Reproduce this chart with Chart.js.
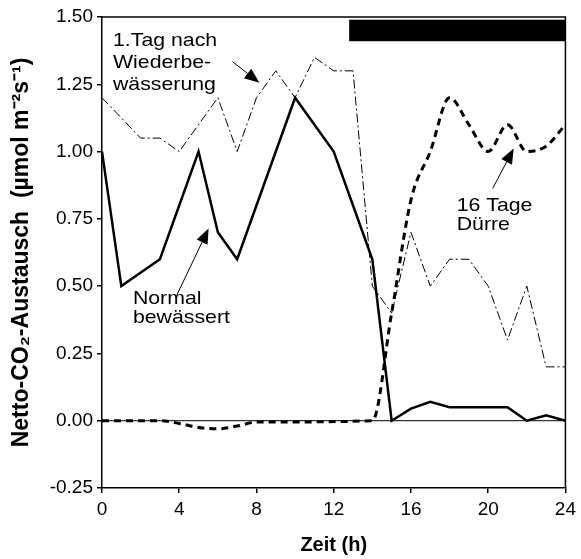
<!DOCTYPE html>
<html>
<head>
<meta charset="utf-8">
<script src="https://cdn.jsdelivr.net/npm/chart.js@4.4.1/dist/chart.umd.min.js"></script>
<style>
  html, body { margin: 0; padding: 0; background: #fff; }
</style>
</head>
<body>
<canvas id="co2Chart" width="581" height="559"></canvas>
<script>
// Netto-CO2-Austausch über 24 h
const normalHours = [0, 1, 3, 5, 6, 7, 10, 12, 14, 15, 16, 17, 18, 21, 22, 23, 24];
const normalValues = [1.0, 0.5, 0.6, 1.0, 0.7, 0.6, 1.2, 1.0, 0.6, 0.0, 0.045, 0.07, 0.05, 0.05, 0.0, 0.02, 0.0];

const rewetHours = [0, 2, 3, 4, 6, 7, 8, 9, 10, 11, 12, 13, 14, 15, 16, 17, 18, 19, 20, 21, 22, 23, 24];
const rewetValues = [1.2, 1.05, 1.05, 1.0, 1.2, 1.0, 1.2, 1.3, 1.2, 1.35, 1.3, 1.3, 0.5, 0.4, 0.7, 0.5, 0.6, 0.6, 0.5, 0.3, 0.5, 0.2, 0.2];

const droughtHours = [0, 3, 4, 5, 6, 7, 8, 14, 15, 16, 17, 18, 19, 20, 21, 22, 23, 24];
const droughtValues = [0, 0, -0.01, -0.025, -0.03, -0.02, -0.005, 0, 0.4, 0.82, 1.0, 1.2, 1.1, 1.0, 1.1, 1.0, 1.02, 1.1];

const xTicks = [0, 4, 8, 12, 16, 20, 24];
const yTicks = [-0.25, 0, 0.25, 0.5, 0.75, 1.0, 1.25, 1.5];

// Dunkelphase (schwarzer Balken oben)
const darkFrom = 12.8;
const darkTo = 24;
const darkLow = 1.41;
const darkHigh = 1.49;

const toPoints = (xs, ys) => xs.map((x, i) => ({ x: x, y: ys[i] }));

const FONT = '"Liberation Sans", Arial, Helvetica, sans-serif';

// Beschriftungen mit Pfeilen (in Datenkoordinaten)
const notes = [
  { lines: ["1.Tag nach", "Wiederbe-", "wässerung"], x: 0.57, y: 1.393, lineHeight: 22,
    arrow: { fromX: 6.76, fromY: 1.334, toX: 8.15, toY: 1.256 } },
  { lines: ["Normal", "bewässert"], x: 1.6, y: 0.432, lineHeight: 19,
    arrow: { fromX: 3.87, fromY: 0.466, toX: 5.52, toY: 0.714 } },
  { lines: ["16 Tage", "Dürre"], x: 18.37, y: 0.78, lineHeight: 19,
    arrow: { fromX: 20.23, fromY: 0.863, toX: 21.32, toY: 1.011 } }
];

const decorPlugin = {
  id: "decor",
  beforeDatasetsDraw(chart) {
    const { ctx, chartArea, scales: { x, y } } = chart;
    ctx.save();
    // Nulllinie
    ctx.strokeStyle = "#000";
    ctx.lineWidth = 1;
    ctx.beginPath();
    ctx.moveTo(chartArea.left, y.getPixelForValue(0));
    ctx.lineTo(chartArea.right, y.getPixelForValue(0));
    ctx.stroke();
    // Dunkelphase
    ctx.fillStyle = "#000";
    const x0 = x.getPixelForValue(darkFrom), x1 = x.getPixelForValue(darkTo);
    const y0 = y.getPixelForValue(darkHigh), y1 = y.getPixelForValue(darkLow);
    ctx.fillRect(x0, y0, x1 - x0, y1 - y0);
    ctx.restore();
  },
  afterDraw(chart) {
    const { ctx, chartArea, scales: { x, y } } = chart;
    ctx.save();
    // Rahmen oben und rechts
    ctx.strokeStyle = "#000";
    ctx.lineWidth = 1.5;
    ctx.beginPath();
    ctx.moveTo(chartArea.left, chartArea.top);
    ctx.lineTo(chartArea.right, chartArea.top);
    ctx.lineTo(chartArea.right, chartArea.bottom);
    ctx.stroke();

    ctx.fillStyle = "#000";
    ctx.font = "19px " + FONT;
    ctx.textBaseline = "alphabetic";
    notes.forEach(n => {
      const px = x.getPixelForValue(n.x), py = y.getPixelForValue(n.y);
      n.lines.forEach((t, i) => {
        ctx.save();
        ctx.translate(px, py + i * n.lineHeight);
        ctx.scale(1.12, 1);
        ctx.fillText(t, 0, 0);
        ctx.restore();
      });
      const a = n.arrow;
      const ax = x.getPixelForValue(a.fromX), ay = y.getPixelForValue(a.fromY);
      const bx = x.getPixelForValue(a.toX), by = y.getPixelForValue(a.toY);
      const ang = Math.atan2(by - ay, bx - ax);
      const headLen = 15, headHalf = 6;
      ctx.lineWidth = 1;
      ctx.beginPath();
      ctx.moveTo(ax, ay);
      ctx.lineTo(bx - Math.cos(ang) * headLen, by - Math.sin(ang) * headLen);
      ctx.stroke();
      ctx.beginPath();
      ctx.moveTo(bx, by);
      ctx.lineTo(bx - Math.cos(ang) * headLen - Math.sin(ang) * headHalf,
                 by - Math.sin(ang) * headLen + Math.cos(ang) * headHalf);
      ctx.lineTo(bx - Math.cos(ang) * headLen + Math.sin(ang) * headHalf,
                 by - Math.sin(ang) * headLen - Math.cos(ang) * headHalf);
      ctx.closePath();
      ctx.fill();
    });
    ctx.restore();
  }
};

const ctx = document.getElementById("co2Chart").getContext("2d");
new Chart(ctx, {
  type: "line",
  data: {
    datasets: [
      {
        label: "1.Tag nach Wiederbewässerung",
        data: toPoints(rewetHours, rewetValues),
        borderColor: "#000",
        borderWidth: 1,
        borderDash: [9, 3, 2, 3],
        pointRadius: 0,
        tension: 0
      },
      {
        label: "Normal bewässert",
        data: toPoints(normalHours, normalValues),
        borderColor: "#000",
        borderWidth: 2.5,
        pointRadius: 0,
        tension: 0
      },
      {
        label: "16 Tage Dürre",
        data: toPoints(droughtHours, droughtValues),
        borderColor: "#000",
        borderWidth: 3,
        borderDash: [7, 5],
        pointRadius: 0,
        cubicInterpolationMode: "monotone"
      }
    ]
  },
  options: {
    responsive: false,
    animation: false,
    layout: { padding: { left: 0, top: 17, right: 14, bottom: 0 } },
    plugins: {
      legend: { display: false },
      tooltip: { enabled: false }
    },
    scales: {
      x: {
        type: "linear",
        min: 0,
        max: 24,
        afterBuildTicks: s => { s.ticks = xTicks.map(v => ({ value: v })); },
        afterFit: s => { s.height = 71; },
        ticks: { color: "#000", font: { family: FONT, size: 19 }, padding: 5, maxRotation: 0 },
        grid: { drawOnChartArea: false, drawTicks: true, tickLength: 5, color: "#000", lineWidth: 1.5 },
        border: { color: "#000", width: 1.5 },
        title: {
          display: true,
          text: "Zeit (h)",
          color: "#000",
          font: { family: FONT, size: 20, weight: "bold" },
          padding: { top: 0, bottom: 2 }
        }
      },
      y: {
        min: -0.25,
        max: 1.5,
        afterBuildTicks: s => { s.ticks = yTicks.map(v => ({ value: v })); },
        afterFit: s => { s.width = 102; },
        ticks: {
          color: "#000",
          font: { family: FONT, size: 19 },
          padding: 4,
          callback: v => v.toFixed(2)
        },
        grid: { drawOnChartArea: false, drawTicks: true, tickLength: 5, color: "#000", lineWidth: 1.5 },
        border: { color: "#000", width: 1.5 },
        title: {
          display: true,
          text: "Netto-CO\u2082-Austausch  (\u00b5mol m\u207b\u00b2s\u207b\u00b9)",
          color: "#000",
          font: { family: FONT, size: 23, weight: "bold" },
          padding: { top: 8, bottom: 0 }
        }
      }
    }
  },
  plugins: [decorPlugin]
});
</script>
</body>
</html>
